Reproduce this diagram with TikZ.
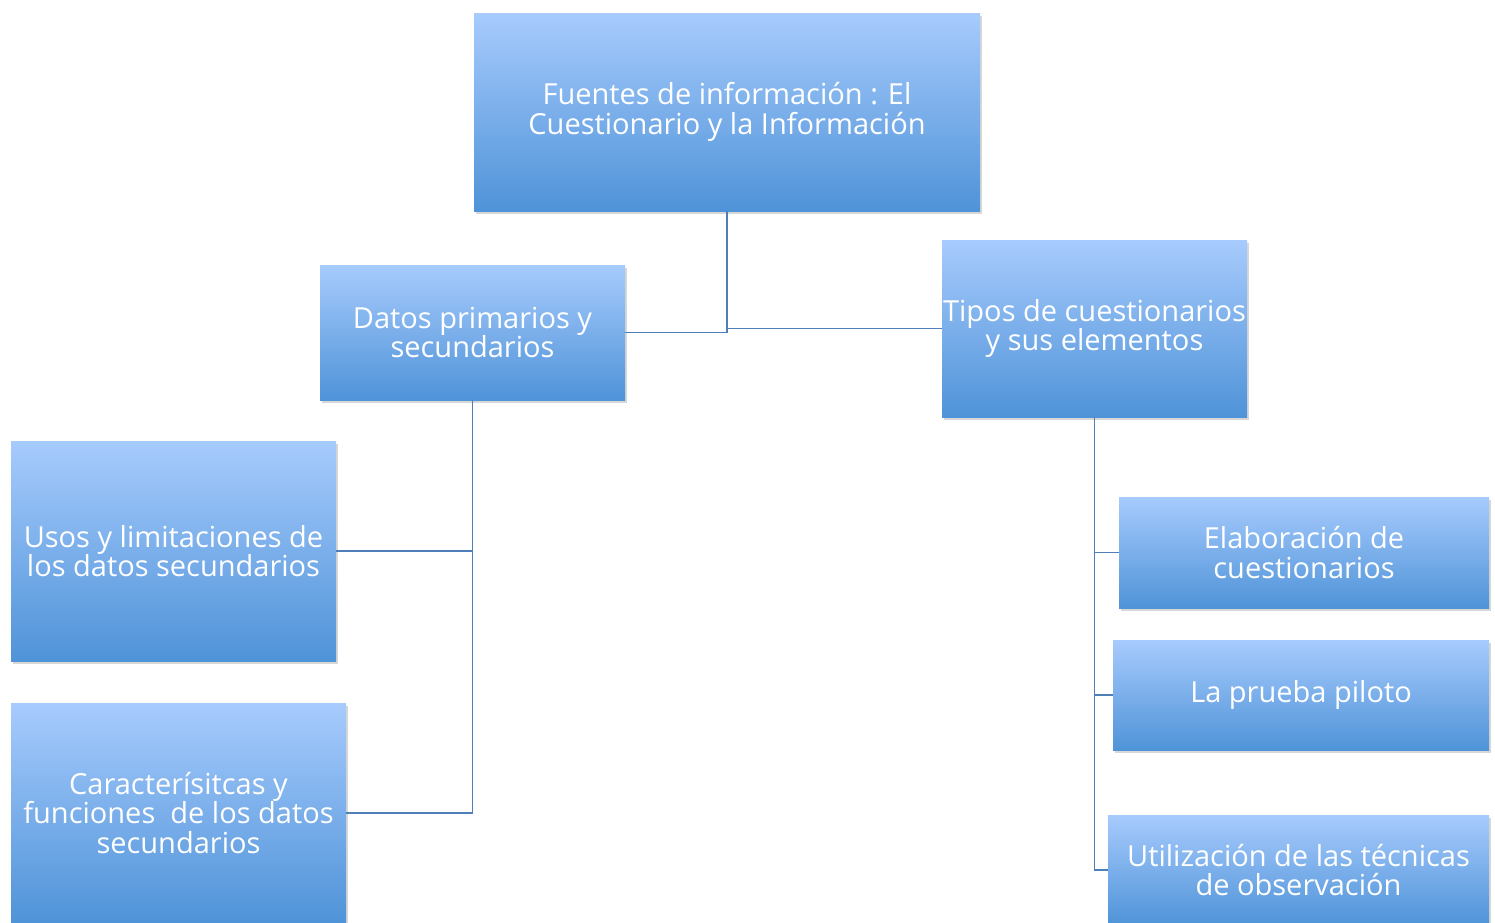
\documentclass[tikz,border=0pt]{standalone}
\usepackage{fontspec}
\setmainfont{Open Sans}
\usetikzlibrary{shadows}
\definecolor{boxtop}{HTML}{A7CBFD}
\definecolor{boxbot}{HTML}{4F93D8}
\definecolor{connc}{HTML}{4F7FB8}
\tikzset{
  boxnode/.style={rectangle, inner sep=0pt, top color=boxtop, bottom color=boxbot,
    draw=none, text=white, align=center, font=\fontsize{29}{29.5}\selectfont,
    drop shadow={shadow xshift=1.5pt, shadow yshift=-2.5pt, opacity=0.22, fill=black!70}},
  conn/.style={draw=connc, line width=1.6pt}
}
\begin{document}
\begin{tikzpicture}[x=1pt,y=-1pt]
\useasboundingbox (0,0) rectangle (1495,922);
\fill[white] (0,0) rectangle (1495,922);
\clip (0,0) rectangle (1495,922);
\node[boxnode, minimum width=506pt, minimum height=198pt] (top) at (727,112) {Fuentes de información : El\\Cuestionario y la Información};
\node[boxnode, minimum width=305pt, minimum height=135pt] (datos) at (472.5,332.5) {Datos primarios y\\secundarios};
\node[boxnode, minimum width=305pt, minimum height=177pt] (tipos) at (1094.5,328.5) {Tipos de cuestionarios\\y sus elementos};
\node[boxnode, minimum width=325pt, minimum height=220pt] (usos) at (173.5,551) {Usos y limitaciones de\\los datos secundarios};
\node[boxnode, minimum width=335pt, minimum height=220pt] (caract) at (178.5,813) {Caracterísitcas y\\funciones\ \ de los datos\\secundarios};
\node[boxnode, minimum width=370pt, minimum height=111pt] (elab) at (1304,552.5) {Elaboración de\\cuestionarios};
\node[boxnode, minimum width=376pt, minimum height=110pt] (piloto) at (1301,695) {La prueba piloto};
\node[boxnode, minimum width=381pt, minimum height=110pt] (util) at (1298.5,870) {Utilización de las técnicas\\de observación};
\draw[conn] (top.south) |- (datos.east);
\draw[conn] (top.south |- tipos.west) -- (tipos.west);
\draw[conn] (datos.south) |- (usos.east);
\draw[conn] (datos.south) |- (caract.east);
\draw[conn] (tipos.south) |- (elab.west);
\draw[conn] (tipos.south) |- (piloto.west);
\draw[conn] (tipos.south) |- (util.west);
\end{tikzpicture}
\end{document}
